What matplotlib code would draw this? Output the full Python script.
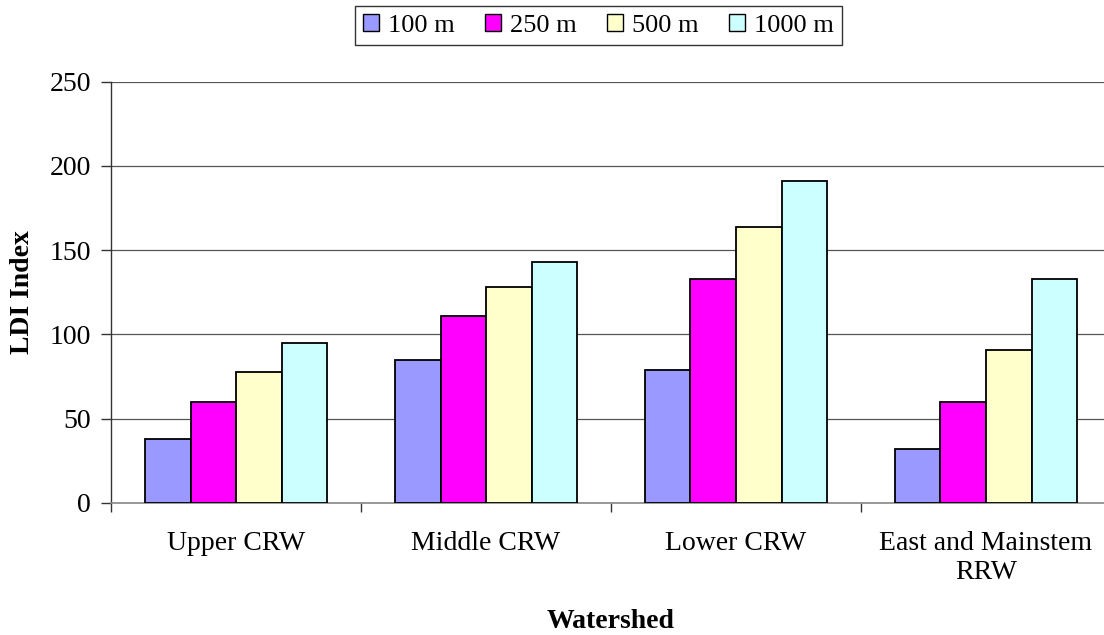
import matplotlib
matplotlib.use("Agg")
import matplotlib.pyplot as plt
import numpy as np
from matplotlib.patches import Patch

categories = ["Upper CRW", "Middle CRW", "Lower CRW", "East and Mainstem\nRRW"]
series_names = ["100 m", "250 m", "500 m", "1000 m"]
v100 = [38, 85, 79, 32]
v250 = [60, 111, 133, 60]
v500 = [78, 128, 164, 91]
v1000 = [95, 143, 191, 133]
values = [v100, v250, v500, v1000]
colors = ["#9999FF", "#FF00FF", "#FFFFCC", "#CCFFFF"]
yticks = [0, 50, 100, 150, 200, 250]

plt.rcParams['font.family'] = ['Liberation Serif', 'DejaVu Serif']
FS = 20

W, H = 1104, 635
fig = plt.figure(figsize=(W / 100, H / 100), dpi=100)
left, right, bottom, top = 111, 1111, 503, 81.7
ax = fig.add_axes([left / W, 1 - bottom / H, (right - left) / W, (bottom - top) / H])

n = len(categories)
x = np.arange(n) + 0.5
bw = 0.182
for i, (vals, c) in enumerate(zip(values, colors)):
    ax.bar(x + (i - 1.5) * bw, vals, width=bw, color=c, edgecolor="black",
           linewidth=1.3, zorder=3, label=series_names[i])

ax.set_xlim(0, n)
ax.set_ylim(0, 250)
ax.set_yticks(yticks)
ax.set_yticklabels([str(t) for t in yticks], fontsize=FS)
ax.yaxis.grid(True, color="#555555", linewidth=0.9, zorder=0)
ax.set_axisbelow(True)

ax.set_xticks(np.arange(n + 1))
ax.set_xticklabels([])
ax.set_xticks(x, minor=True)
ax.set_xticklabels(categories, minor=True, fontsize=FS, linespacing=1.2)
ax.tick_params(axis='x', which='minor', length=0, pad=20)
ax.tick_params(axis='x', which='major', length=6.5, width=1, color="#333333", direction='out')
ax.tick_params(axis='y', length=7.5, width=1, color="#333333", direction='out', pad=7)

for s in ['top', 'right']:
    ax.spines[s].set_visible(False)
ax.spines['left'].set_color("#333333")
ax.spines['bottom'].set_color("#888888")
ax.spines['left'].set_linewidth(1)
ax.spines['bottom'].set_linewidth(1.2)

fig.text(23 / W, 1 - 292 / H, "LDI Index", rotation=90, ha='center', va='center',
         fontsize=FS, fontweight='bold')
fig.text(611 / W, 1 - 621 / H, "Watershed", ha='center', va='center',
         fontsize=FS, fontweight='bold')

handles = [Patch(facecolor=c, edgecolor="black", linewidth=1.0) for c in colors]
leg = fig.legend(handles, series_names, loc='center', bbox_to_anchor=(598.5 / W, 1 - 25.5 / H),
                 ncol=4, frameon=True, fancybox=False, fontsize=19, handlelength=0.61,
                 handleheight=0.61, handletextpad=0.34, columnspacing=1.14,
                 borderpad=0.3, borderaxespad=0)
leg.get_frame().set_edgecolor("black")
leg.get_frame().set_linewidth(1.0)

fig.savefig("out.png", dpi=100)
